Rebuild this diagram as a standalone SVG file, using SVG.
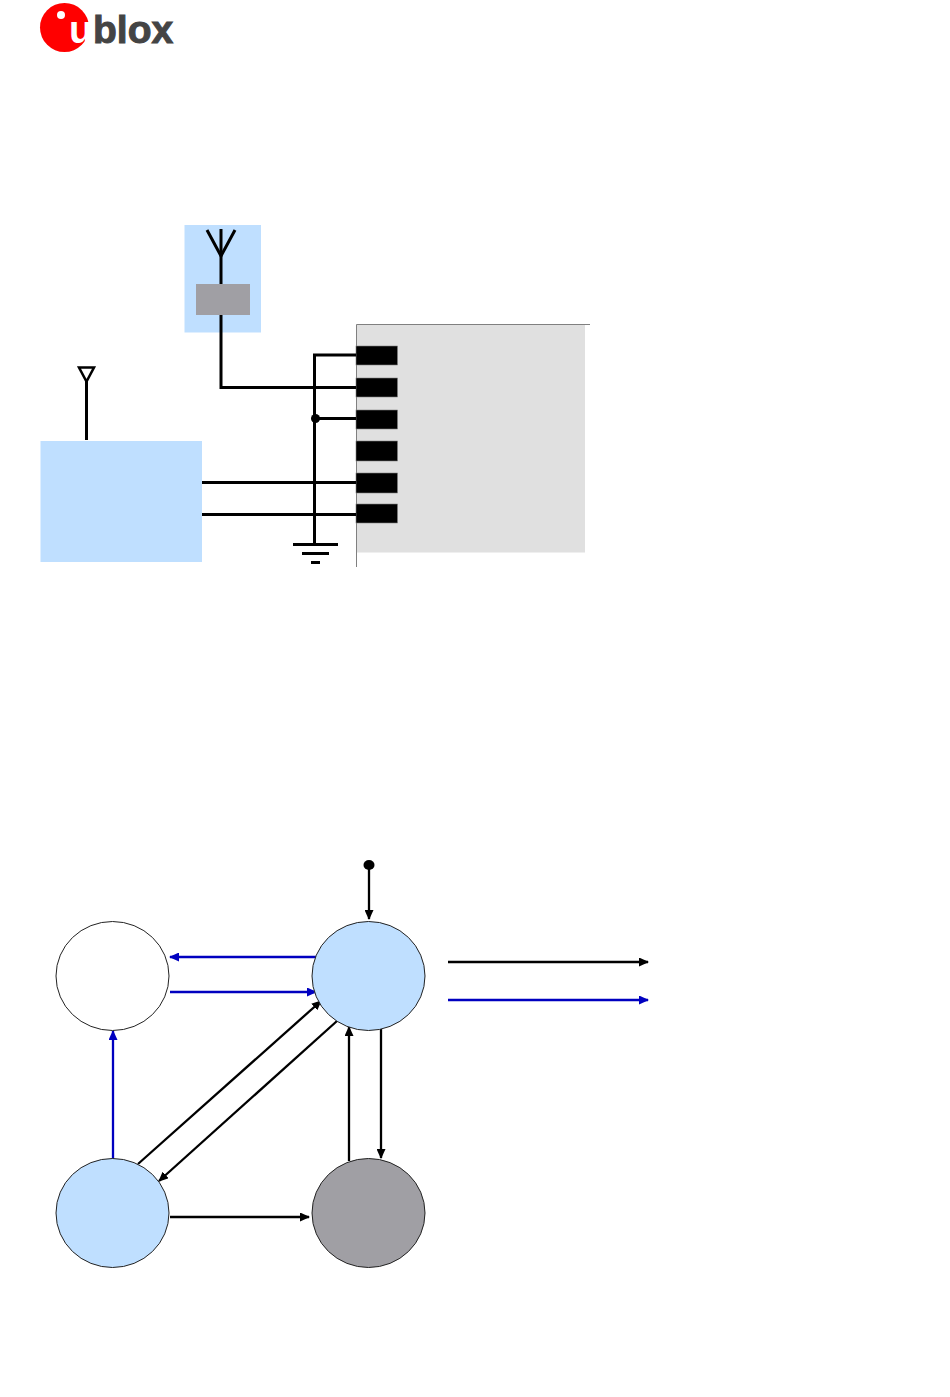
<svg xmlns="http://www.w3.org/2000/svg" width="950" height="1397" viewBox="0 0 950 1397">
<style>
.w{fill:none;stroke:#000;stroke-width:3}
.k{fill:none;stroke:#000;stroke-width:2.300}
.b{fill:none;stroke:#0000c0;stroke-width:2.300}
.pad{fill:#000;stroke:#808080;stroke-width:.6}
.st{stroke:#222;stroke-width:1}
.logo{font-family:"Liberation Sans",Arial,sans-serif;font-weight:700;font-size:39px}
</style>
<defs>
<marker id="ak" markerUnits="userSpaceOnUse" markerWidth="10" markerHeight="9" refX="9" refY="4.5" orient="auto"><path d="M0 0L10 4.500L0 9Z" fill="#000"/></marker>
<marker id="ab" markerUnits="userSpaceOnUse" markerWidth="10" markerHeight="9" refX="9" refY="4.5" orient="auto"><path d="M0 0L10 4.500L0 9Z" fill="#0000c0"/></marker>
</defs>
<g id="logo">
<circle cx="64.500" cy="27.500" r="24.500" fill="#f00"/>
<circle cx="61" cy="15" r="4" fill="#fff"/>
<text class="logo" x="69" y="43" fill="#fff">u</text>
<text class="logo" x="93" y="43" fill="#444" stroke="#444" stroke-width="1">blox</text>
</g>
<g id="antenna-box">
<rect x="184.500" y="225" width="76.500" height="107.500" fill="#bfdfff"/>
<rect x="196" y="284" width="54" height="31" fill="#a09fa4"/>
</g>
<g id="host-box"><rect x="40.500" y="441" width="161.500" height="121" fill="#bfdfff"/></g>
<g id="module">
<rect x="356.500" y="324.500" width="228.500" height="228" fill="#e0e0e0"/>
<path d="M590 324.500H356.500V567" fill="none" stroke="#808080" stroke-width="1"/>
<rect class="pad" x="356" y="346" width="41.500" height="19"/>
<rect class="pad" x="356" y="378" width="41.500" height="19"/>
<rect class="pad" x="356" y="410" width="41.500" height="19"/>
<rect class="pad" x="356" y="441" width="41.500" height="20"/>
<rect class="pad" x="356" y="473" width="41.500" height="20"/>
<rect class="pad" x="356" y="504" width="41.500" height="19"/>
</g>
<g id="connectors">
<path class="w" d="M221 229V284M221 315V387.500H356"/>
<path class="w" d="M207 230L221 256L235 230"/>
<path class="w" d="M86.500 440V381"/>
<path d="M79 367.500H94L86.500 381.500Z" fill="#fff" stroke="#000" stroke-width="2.500"/>
<path class="w" d="M356 355H314.500V544"/>
<path class="w" d="M315 418.500H356M202 482.500H356M202 514.500H356"/>
<circle cx="315.500" cy="418.500" r="4.500" fill="#000"/>
<path class="w" d="M293 544.500H338M302 553.500H329M311 562.500H320"/>
<ellipse cx="369" cy="865" rx="5.500" ry="5" fill="#000"/>
<path class="k" d="M369 865V919" marker-end="url(#ak)"/>
<path class="b" d="M316 957H170" marker-end="url(#ab)"/>
<path class="b" d="M170 992H316" marker-end="url(#ab)"/>
<path class="b" d="M113 1159V1031" marker-end="url(#ab)"/>
<path class="k" d="M138 1164L321 1001" marker-end="url(#ak)"/>
<path class="k" d="M337 1021L159 1181" marker-end="url(#ak)"/>
<path class="k" d="M349 1161V1027" marker-end="url(#ak)"/>
<path class="k" d="M381 1029V1158" marker-end="url(#ak)"/>
<path class="k" d="M170 1217H309" marker-end="url(#ak)"/>
<path class="k" d="M448 962H648" marker-end="url(#ak)"/>
<path class="b" d="M448 1000H648" marker-end="url(#ab)"/>
</g>
<g id="state-white"><ellipse class="st" cx="112.500" cy="976" rx="56.500" ry="54.500" fill="#fff"/></g>
<g id="state-top"><ellipse class="st" cx="368.500" cy="976" rx="56.500" ry="54.500" fill="#bfdfff"/></g>
<g id="state-left"><ellipse class="st" cx="112.500" cy="1213" rx="56.500" ry="54.500" fill="#bfdfff"/></g>
<g id="state-grey"><ellipse class="st" cx="368.500" cy="1213" rx="56.500" ry="54.500" fill="#a09fa4"/></g>
</svg>
